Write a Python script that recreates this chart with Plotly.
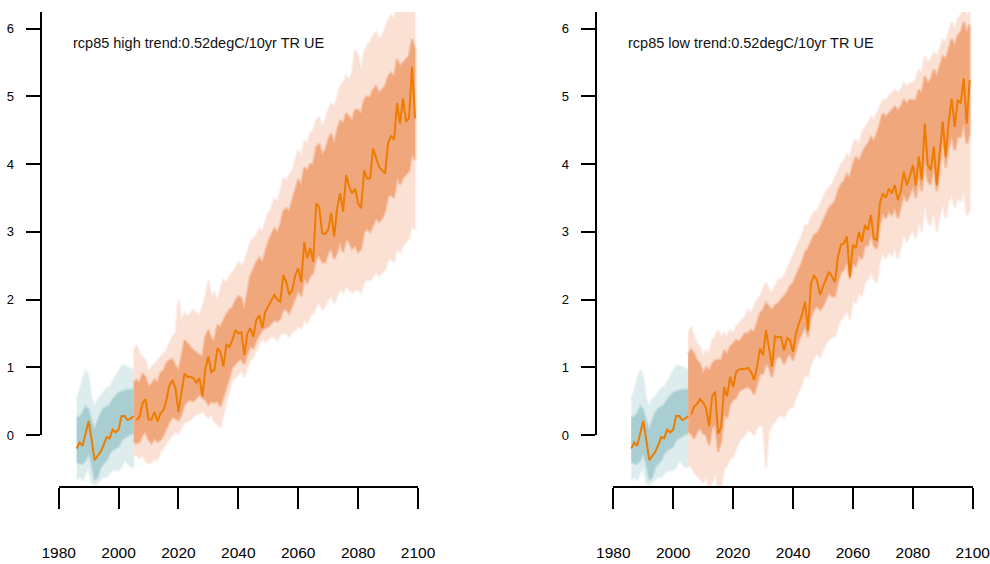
import plotly.graph_objects as go

# ---------------------------------------------------------------- data
HIST_YEARS = list(range(1986, 2006))
PROJ_BAND_YEARS = list(range(2005, 2100))
PROJ_LINE_YEARS = list(range(2006, 2100))
X_TICKS = [1980, 2000, 2020, 2040, 2060, 2080, 2100]
Y_TICKS = [0, 1, 2, 3, 4, 5, 6]

PANEL_TITLES = ["rcp85 high trend:0.52degC/10yr TR UE",
                "rcp85 low trend:0.52degC/10yr TR UE"]

# historical period (same in both panels)
hist_mean = [-0.20, -0.11, -0.16, 0.03, 0.21, -0.07, -0.37, -0.31, -0.25, -0.15,
             -0.03, -0.05, 0.08, 0.04, 0.08, 0.28, 0.28, 0.22, 0.24, 0.28]
hist_inner_hi = [0.25, 0.27, 0.32, 0.42, 0.37, 0.20, 0.08, 0.20, 0.32, 0.39,
                 0.42, 0.44, 0.52, 0.57, 0.62, 0.64, 0.66, 0.67, 0.67, 0.67]
hist_inner_lo = [-0.39, -0.42, -0.42, -0.37, -0.27, -0.42, -0.66, -0.62, -0.47, -0.42,
                 -0.37, -0.27, -0.22, -0.20, -0.17, -0.07, -0.05, -0.02, 0.02, 0.02]
hist_outer_hi = [0.52, 0.66, 0.79, 0.96, 0.86, 0.52, 0.42, 0.52, 0.57, 0.64,
                 0.69, 0.71, 0.79, 0.86, 0.96, 1.02, 1.03, 1.01, 0.98, 0.96]
hist_outer_lo = [-0.66, -0.62, -0.66, -0.57, -0.47, -0.71, -0.74, -0.71, -0.66, -0.62,
                 -0.62, -0.57, -0.52, -0.52, -0.52, -0.47, -0.37, -0.42, -0.47, -0.47]

# projection, high-trend panel
high_mean = [0.22, 0.27, 0.47, 0.53, 0.23, 0.23, 0.34, 0.20, 0.32, 0.37,
             0.52, 0.74, 0.81, 0.69, 0.34, 0.61, 0.91, 0.86, 0.86, 0.84,
             0.77, 0.84, 0.57, 0.98, 1.16, 0.93, 0.96, 1.28, 1.23, 1.01,
             1.34, 1.30, 1.40, 1.55, 1.50, 1.52, 1.18, 1.50, 1.58, 1.45,
             1.70, 1.77, 1.58, 1.82, 1.90, 1.99, 2.07, 2.00, 1.97, 2.36,
             2.26, 2.07, 2.14, 2.36, 2.46, 2.26, 2.85, 2.61, 2.76, 2.56,
             3.42, 3.37, 2.98, 2.97, 3.03, 3.28, 2.93, 3.35, 3.57, 3.30,
             3.84, 3.67, 3.57, 3.64, 3.42, 3.35, 3.91, 3.79, 3.79, 4.23,
             4.11, 3.96, 3.91, 3.86, 4.31, 4.42, 4.36, 4.90, 4.60, 4.97,
             4.63, 4.68, 5.44, 4.68]
high_inner_hi = [0.78,
                 0.81, 0.78, 0.90, 0.86, 0.71, 0.75, 0.82, 0.78, 0.92, 0.95,
                 1.06, 1.10, 1.12, 1.02, 0.96, 1.15, 1.40, 1.35, 1.30, 1.25,
                 1.22, 1.18, 1.16, 1.45, 1.55, 1.42, 1.40, 1.62, 1.60, 1.70,
                 1.78, 1.85, 1.88, 1.98, 2.05, 2.02, 1.85, 2.10, 2.35, 2.45,
                 2.55, 2.62, 2.55, 2.70, 2.85, 2.95, 3.05, 3.00, 3.10, 3.30,
                 3.35, 3.30, 3.45, 3.60, 3.77, 3.70, 3.95, 3.90, 4.00, 4.00,
                 4.25, 4.30, 4.15, 4.20, 4.36, 4.45, 4.30, 4.50, 4.65, 4.60,
                 4.75, 4.70, 4.65, 4.80, 4.80, 4.75, 4.95, 5.00, 4.98, 5.10,
                 5.15, 5.05, 5.10, 5.15, 5.29, 5.35, 5.30, 5.55, 5.45, 5.50,
                 5.55, 5.60, 5.85, 5.69]
high_inner_lo = [-0.10,
                 -0.12, -0.10, 0.00, 0.05, -0.07, -0.12, -0.05, -0.10, -0.07, 0.00,
                 0.10, 0.20, 0.27, 0.25, 0.22, 0.30, 0.45, 0.50, 0.52, 0.50,
                 0.55, 0.60, 0.55, 0.52, 0.45, 0.50, 0.48, 0.50, 0.42, 0.55,
                 0.70, 0.85, 1.00, 1.05, 1.10, 1.12, 1.05, 1.20, 1.30, 1.28,
                 1.40, 1.48, 1.55, 1.58, 1.60, 1.65, 1.70, 1.68, 1.72, 1.85,
                 1.85, 1.80, 1.92, 2.02, 2.14, 2.05, 2.30, 2.25, 2.35, 2.40,
                 2.60, 2.65, 2.55, 2.55, 2.69, 2.75, 2.60, 2.70, 2.85, 2.70,
                 2.90, 2.85, 2.75, 2.80, 2.70, 2.75, 3.00, 3.05, 3.00, 3.10,
                 3.20, 3.15, 3.20, 3.30, 3.52, 3.55, 3.50, 3.80, 3.70, 3.80,
                 3.85, 3.90, 4.15, 4.06]
high_outer_hi = [1.25,
                 1.33, 1.20, 1.15, 1.10, 0.95, 1.00, 1.05, 1.10, 1.15, 1.20,
                 1.25, 1.35, 1.45, 1.50, 2.00, 1.70, 1.80, 1.75, 1.80, 1.85,
                 1.80, 1.75, 1.90, 2.05, 2.29, 2.05, 2.10, 1.99, 2.15, 2.29,
                 2.25, 2.35, 2.40, 2.45, 2.56, 2.50, 2.55, 2.70, 2.85, 2.90,
                 2.95, 3.05, 3.00, 3.15, 3.28, 3.35, 3.50, 3.45, 3.60, 3.80,
                 3.75, 3.85, 3.90, 4.05, 4.21, 4.10, 4.35, 4.30, 4.45, 4.50,
                 4.65, 4.70, 4.55, 4.65, 4.80, 4.90, 4.85, 5.00, 5.15, 5.20,
                 5.30, 5.25, 5.35, 5.69, 5.60, 5.40, 5.65, 5.75, 5.80, 5.90,
                 5.95, 5.85, 5.90, 6.00, 6.13, 6.20, 6.15, 6.40, 6.30, 6.40,
                 6.45, 6.50, 6.70, 6.60]
high_outer_lo = [-0.30,
                 -0.30, -0.34, -0.30, -0.38, -0.42, -0.40, -0.35, -0.37, -0.25, -0.18,
                 -0.12, -0.05, 0.00, 0.05, 0.02, 0.10, 0.18, 0.20, 0.22, 0.28,
                 0.30, 0.32, 0.35, 0.30, 0.25, 0.30, 0.20, 0.15, 0.12, 0.30,
                 0.50, 0.65, 0.81, 0.85, 0.90, 0.95, 0.85, 1.00, 1.10, 1.15,
                 1.25, 1.35, 1.40, 1.38, 1.42, 1.45, 1.45, 1.40, 1.48, 1.50,
                 1.50, 1.45, 1.52, 1.55, 1.60, 1.58, 1.70, 1.65, 1.75, 1.80,
                 1.90, 1.95, 1.85, 1.90, 2.00, 2.05, 1.95, 2.05, 2.15, 2.10,
                 2.20, 2.15, 2.10, 2.15, 2.14, 2.10, 2.25, 2.30, 2.28, 2.35,
                 2.40, 2.35, 2.40, 2.45, 2.58, 2.60, 2.55, 2.75, 2.70, 2.80,
                 2.85, 2.90, 3.10, 3.03]

# projection, low-trend panel
low_mean = [0.30, 0.42, 0.46, 0.53, 0.48, 0.39, 0.13, 0.57, 0.64, 0.02,
            0.12, 0.71, 0.57, 0.86, 0.71, 0.93, 0.97, 0.97, 0.98, 0.99,
            0.93, 0.81, 1.01, 1.28, 1.18, 1.55, 1.30, 1.01, 1.46, 1.44,
            1.45, 1.25, 1.43, 1.40, 1.23, 1.50, 1.65, 1.77, 1.97, 1.55,
            2.24, 2.36, 2.29, 2.07, 2.19, 2.31, 2.41, 2.34, 2.26, 2.63,
            2.81, 2.83, 2.93, 2.34, 2.81, 2.76, 3.00, 2.85, 3.10, 3.03,
            3.25, 2.90, 2.88, 3.42, 3.57, 3.50, 3.64, 3.57, 3.69, 3.47,
            3.60, 3.89, 3.69, 3.82, 3.99, 3.69, 4.11, 3.77, 4.60, 3.99,
            3.91, 4.26, 3.69, 4.18, 4.63, 4.11, 4.63, 4.97, 4.55, 4.95,
            4.90, 5.27, 4.60, 5.24]
low_inner_hi = [1.20,
                1.26, 1.20, 1.10, 1.05, 0.91, 1.00, 0.95, 1.05, 1.10, 1.11,
                1.10, 1.25, 1.20, 1.30, 1.35, 1.40, 1.38, 1.45, 1.50, 1.50,
                1.55, 1.52, 1.65, 1.80, 1.85, 1.95, 1.90, 1.85, 1.92, 1.94,
                2.00, 2.05, 2.10, 2.20, 2.24, 2.35, 2.45, 2.55, 2.70, 2.75,
                2.85, 2.95, 2.98, 3.05, 3.15, 3.25, 3.35, 3.40, 3.45, 3.60,
                3.70, 3.75, 3.85, 3.80, 4.00, 4.11, 4.05, 4.15, 4.25, 4.30,
                4.40, 4.35, 4.45, 4.60, 4.75, 4.70, 4.75, 4.80, 4.85, 4.80,
                4.85, 4.95, 4.90, 4.95, 4.95, 4.95, 5.10, 5.05, 5.30, 5.20,
                5.25, 5.40, 5.30, 5.45, 5.59, 5.55, 5.70, 5.85, 5.75, 5.90,
                5.95, 6.10, 5.95, 6.06]
low_inner_lo = [0.05,
                0.02, -0.05, 0.05, 0.10, 0.02, 0.00, -0.15, 0.10, 0.15, -0.25,
                -0.10, 0.30, 0.25, 0.45, 0.52, 0.55, 0.65, 0.68, 0.70, 0.71,
                0.68, 0.60, 0.75, 0.90, 0.91, 1.05, 1.00, 0.85, 1.10, 1.16,
                1.15, 1.05, 1.15, 1.20, 1.10, 1.26, 1.40, 1.50, 1.60, 1.45,
                1.75, 1.85, 1.90, 1.85, 1.90, 2.00, 2.10, 2.05, 2.05, 2.25,
                2.40, 2.45, 2.55, 2.30, 2.53, 2.50, 2.65, 2.60, 2.80, 2.80,
                2.95, 2.80, 2.75, 3.10, 3.27, 3.20, 3.30, 3.25, 3.35, 3.20,
                3.35, 3.55, 3.45, 3.55, 3.67, 3.50, 3.80, 3.60, 4.05, 3.75,
                3.70, 3.95, 3.60, 3.90, 4.31, 3.95, 4.25, 4.40, 4.20, 4.40,
                4.40, 4.60, 4.30, 4.45]
low_outer_hi = [1.50,
                1.60, 1.45, 1.35, 1.30, 1.16, 1.25, 1.20, 1.40, 1.45, 1.55,
                1.45, 1.50, 1.45, 1.55, 1.50, 1.60, 1.65, 1.70, 1.75, 1.85,
                1.80, 1.90, 2.00, 2.05, 2.14, 2.25, 2.15, 2.10, 2.20, 2.29,
                2.30, 2.35, 2.45, 2.55, 2.63, 2.75, 2.85, 2.95, 3.10, 3.10,
                3.20, 3.30, 3.30, 3.40, 3.50, 3.60, 3.65, 3.70, 3.80, 3.90,
                4.00, 4.05, 4.15, 4.10, 4.30, 4.36, 4.30, 4.45, 4.55, 4.60,
                4.70, 4.65, 4.75, 4.85, 4.95, 4.95, 5.00, 5.05, 5.10, 5.05,
                5.10, 5.20, 5.15, 5.20, 5.20, 5.25, 5.40, 5.35, 5.60, 5.50,
                5.55, 5.65, 5.60, 5.70, 5.84, 5.80, 5.95, 6.10, 6.00, 6.15,
                6.20, 6.35, 6.20, 6.28]
low_outer_lo = [-0.45,
                -0.47, -0.55, -0.60, -0.65, -0.71, -0.60, -0.80, -0.70, -0.55, -0.80,
                -0.80, -0.50, -0.45, -0.35, -0.32, -0.20, -0.10, -0.05, 0.00, 0.07,
                0.05, 0.00, 0.10, 0.15, 0.12, -0.50, 0.05, 0.15, 0.20, 0.27,
                0.30, 0.25, 0.35, 0.40, 0.42, 0.55, 0.65, 0.75, 0.90, 0.85,
                1.05, 1.15, 1.20, 1.15, 1.25, 1.35, 1.40, 1.45, 1.45, 1.60,
                1.70, 1.75, 1.85, 1.70, 1.99, 1.95, 2.10, 2.05, 2.25, 2.30,
                2.40, 2.30, 2.25, 2.55, 2.68, 2.60, 2.70, 2.65, 2.75, 2.60,
                2.75, 2.95, 2.85, 2.95, 3.03, 2.90, 3.15, 3.00, 3.40, 3.15,
                3.10, 3.30, 3.00, 3.25, 3.40, 3.20, 3.45, 3.55, 3.35, 3.50,
                3.45, 3.60, 3.25, 3.32]

for arr in (hist_mean, hist_inner_hi, hist_inner_lo, hist_outer_hi, hist_outer_lo):
    assert len(arr) == len(HIST_YEARS)
for arr in (high_mean, low_mean):
    assert len(arr) == len(PROJ_LINE_YEARS), len(arr)
for arr in (high_inner_hi, high_inner_lo, high_outer_hi, high_outer_lo,
            low_inner_hi, low_inner_lo, low_outer_hi, low_outer_lo):
    assert len(arr) == len(PROJ_BAND_YEARS), len(arr)

# ---------------------------------------------------------------- style
FONT = "Liberation Sans, Arial, sans-serif"
TEAL_OUTER = (221, 236, 237)
TEAL_INNER = (168, 206, 210)
ORANGE_OUTER = (250, 225, 212)
ORANGE_INNER = (241, 167, 124)
LINE_COLOR = "rgb(238,124,0)"

W, H = 990, 564
Y_RANGE = [-0.753, 6.248]


def band(x, hi, lo, rgb, xa, ya):
    # filled envelope; a translucent outline of the same colour softens the edge
    r, g, b = rgb
    return go.Scatter(x=x + x[::-1], y=hi + lo[::-1], fill="toself",
                      fillcolor=f"rgb({r},{g},{b})",
                      line=dict(width=3, color=f"rgba({r},{g},{b},0.45)"),
                      mode="lines", hoverinfo="skip", showlegend=False,
                      xaxis=xa, yaxis=ya)


def line(x, y, xa, ya):
    return go.Scatter(x=x, y=y, mode="lines", line=dict(color=LINE_COLOR, width=2),
                      hoverinfo="skip", showlegend=False, xaxis=xa, yaxis=ya)


fig = go.Figure()
panels = [
    ("x", "y", "y3", high_mean, high_inner_hi, high_inner_lo, high_outer_hi, high_outer_lo),
    ("x2", "y2", "y4", low_mean, low_inner_hi, low_inner_lo, low_outer_hi, low_outer_lo),
]
for xa, ya, ya_axis, mean, ihi, ilo, ohi, olo in panels:
    fig.add_trace(band(HIST_YEARS, hist_outer_hi, hist_outer_lo, TEAL_OUTER, xa, ya))
    fig.add_trace(band(HIST_YEARS, hist_inner_hi, hist_inner_lo, TEAL_INNER, xa, ya))
    fig.add_trace(band(PROJ_BAND_YEARS, ohi, olo, ORANGE_OUTER, xa, ya))
    fig.add_trace(band(PROJ_BAND_YEARS, ihi, ilo, ORANGE_INNER, xa, ya))
    fig.add_trace(line(HIST_YEARS, hist_mean, xa, ya))
    fig.add_trace(line(PROJ_LINE_YEARS, mean, xa, ya))
    # empty trace so the tick-carrying y axis gets its own subplot
    fig.add_trace(go.Scatter(x=[None], y=[None], mode="markers", showlegend=False,
                             hoverinfo="skip", xaxis=xa, yaxis=ya_axis))

# pixel geometry
y_bot, y_top, y_zero = 486, 12, 435
dom_y = [(H - y_bot) / H, (H - y_top) / H]
dom_y_axis = [(H - y_zero) / H, (H - y_top) / H]

x_axis_common = dict(range=[1980, 2100], showgrid=False, zeroline=False,
                     showline=True, linewidth=2, linecolor="black",
                     ticks="outside", ticklen=21, tickwidth=2, tickcolor="black",
                     tickvals=X_TICKS, ticktext=[str(v) for v in X_TICKS],
                     tickfont=dict(family=FONT, size=15.5, color="black"),
                     ticklabelstandoff=30, ticklabeloverflow="allow",
                     automargin=False, fixedrange=True)
y_data_common = dict(range=Y_RANGE, domain=dom_y, visible=False,
                     automargin=False, fixedrange=True)
y_axis_common = dict(range=[0, Y_RANGE[1]], domain=dom_y_axis, anchor="free",
                     showgrid=False, zeroline=False, showline=True, linewidth=2,
                     linecolor="black", ticks="outside", ticklen=14, tickwidth=2,
                     tickcolor="black", tickvals=Y_TICKS,
                     ticktext=[str(v) for v in Y_TICKS],
                     tickfont=dict(family=FONT, size=13, color="black"),
                     ticklabelstandoff=9, automargin=False, fixedrange=True)

fig.update_layout(
    template="none",
    width=W, height=H, margin=dict(l=0, r=0, t=0, b=0, pad=0), autosize=False,
    paper_bgcolor="white", plot_bgcolor="rgba(0,0,0,0)",
    xaxis=dict(domain=[58.7 / W, 418.0 / W], anchor="y", **x_axis_common),
    xaxis2=dict(domain=[613.3 / W, 972.7 / W], anchor="y2", **x_axis_common),
    yaxis=dict(anchor="x", **y_data_common),
    yaxis2=dict(anchor="x2", **y_data_common),
    yaxis3=dict(position=40.7 / W, **y_axis_common),
    yaxis4=dict(position=595.7 / W, **y_axis_common),
)

for title, x_px in zip(PANEL_TITLES, [71, 626]):
    fig.add_annotation(text=title, x=x_px / W, y=(H - 43) / H, xref="paper",
                       yref="paper", xanchor="left", yanchor="middle",
                       showarrow=False,
                       font=dict(family=FONT, size=14.5, color="#111111"))

fig.write_html("out.html")
